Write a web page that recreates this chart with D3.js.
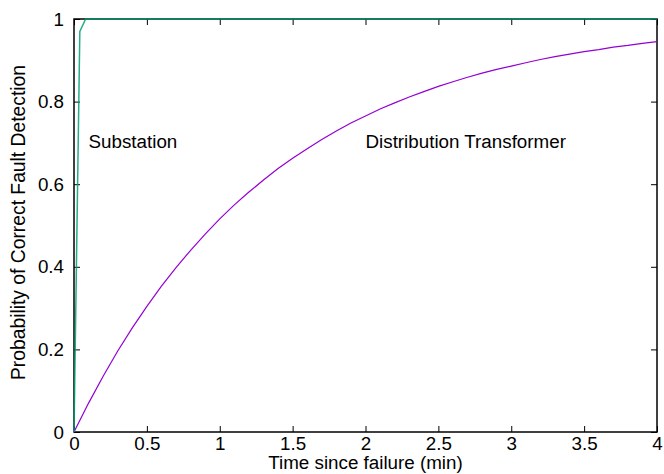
<!DOCTYPE html>
<html>
<head>
<meta charset="utf-8">
<script src="https://cdn.jsdelivr.net/npm/d3@7"></script>
<style>
  body { margin: 0; background: #fff; }
  text { font-family: "Liberation Sans", Arial, sans-serif; fill: #000; }
</style>
</head>
<body>
<svg></svg>
<script>
var svg = d3.select("svg")
    .attr("width", 664)
    .attr("height", 474);

// time samples (min)
var timeDT = [0, 0.1, 0.2, 0.3, 0.4, 0.5, 0.6, 0.7, 0.8, 0.9, 1.0,
    1.1, 1.2, 1.3, 1.4, 1.5, 1.6, 1.7, 1.8, 1.9, 2.0,
    2.1, 2.2, 2.3, 2.4, 2.5, 2.6, 2.7, 2.8, 2.9, 3.0,
    3.1, 3.2, 3.3, 3.4, 3.5, 3.6, 3.7, 3.8, 3.9, 4.0];
var probDT = [0, 0.070, 0.135, 0.196, 0.252, 0.304, 0.353, 0.398, 0.440, 0.479, 0.516,
    0.550, 0.581, 0.610, 0.638, 0.663, 0.686, 0.708, 0.729, 0.748, 0.765,
    0.782, 0.797, 0.811, 0.824, 0.837, 0.848, 0.859, 0.869, 0.878, 0.886,
    0.894, 0.902, 0.909, 0.915, 0.921, 0.926, 0.932, 0.936, 0.941, 0.945];

var timeSub = [0, 0.04, 0.08, 4.0];
var probSub = [0, 0.97, 1.0, 1.0];

var xTicks = [0, 0.5, 1, 1.5, 2, 2.5, 3, 3.5, 4];
var yTicks = [0, 0.2, 0.4, 0.6, 0.8, 1];

var fs = 18.8;

var margin = {left: 74, top: 19, right: 7, bottom: 42};
var width = 664 - margin.left - margin.right;
var height = 474 - margin.top - margin.bottom;

var x = d3.scaleLinear().domain([0, 4]).range([0, width]);
var y = d3.scaleLinear().domain([0, 1]).range([height, 0]);

var g = svg.append("g")
    .attr("transform", "translate(" + margin.left + "," + margin.top + ")");

function styleAxis(sel) {
    sel.select(".domain").remove();
    sel.selectAll(".tick line").attr("stroke", "#000").attr("stroke-width", 1);
    sel.selectAll(".tick text").attr("font-size", fs).attr("fill", "#000")
        .attr("font-family", "Liberation Sans, Arial, sans-serif");
}

// bottom axis, ticks inward
g.append("g")
    .attr("transform", "translate(0," + height + ")")
    .call(d3.axisBottom(x).tickValues(xTicks).tickSizeInner(-6).tickSizeOuter(0).tickPadding(4.5)
        .tickFormat(d3.format("")))
    .call(styleAxis);

// top mirror ticks
g.append("g")
    .call(d3.axisTop(x).tickValues(xTicks).tickSizeInner(-6).tickSizeOuter(0).tickFormat(""))
    .call(styleAxis);

// left axis
g.append("g")
    .call(d3.axisLeft(y).tickValues(yTicks).tickSizeInner(-6).tickSizeOuter(0).tickPadding(10)
        .tickFormat(d3.format("")))
    .call(styleAxis);

// right mirror ticks
g.append("g")
    .attr("transform", "translate(" + width + ",0)")
    .call(d3.axisRight(y).tickValues(yTicks).tickSizeInner(-6).tickSizeOuter(0).tickFormat(""))
    .call(styleAxis);

// border
g.append("rect")
    .attr("width", width)
    .attr("height", height)
    .attr("fill", "none")
    .attr("stroke", "#000")
    .attr("stroke-width", 1.5);

var line = d3.line()
    .x(d => x(d[0]))
    .y(d => y(d[1]));

g.append("path")
    .datum(d3.zip(timeDT, probDT))
    .attr("d", line)
    .attr("fill", "none")
    .attr("stroke", "#9400d3")
    .attr("stroke-width", 1.2);

g.append("path")
    .datum(d3.zip(timeSub, probSub))
    .attr("d", line)
    .attr("fill", "none")
    .attr("stroke", "#009e73")
    .attr("stroke-width", 1.5)
    .attr("opacity", 0.85);

// curve labels
g.append("text")
    .attr("x", x(0.1))
    .attr("y", y(0.688))
    .attr("font-size", fs)
    .text("Substation");

g.append("text")
    .attr("x", x(2))
    .attr("y", y(0.688))
    .attr("font-size", fs)
    .text("Distribution Transformer");

// axis titles
svg.append("text")
    .attr("x", margin.left + width / 2)
    .attr("y", 469)
    .attr("text-anchor", "middle")
    .attr("font-size", fs)
    .text("Time since failure (min)");

svg.append("text")
    .attr("transform", "translate(25," + (margin.top + height / 2 - 3) + ") rotate(-90)")
    .attr("text-anchor", "middle")
    .attr("font-size", 19.3)
    .text("Probability of Correct Fault Detection");
</script>
</body>
</html>
